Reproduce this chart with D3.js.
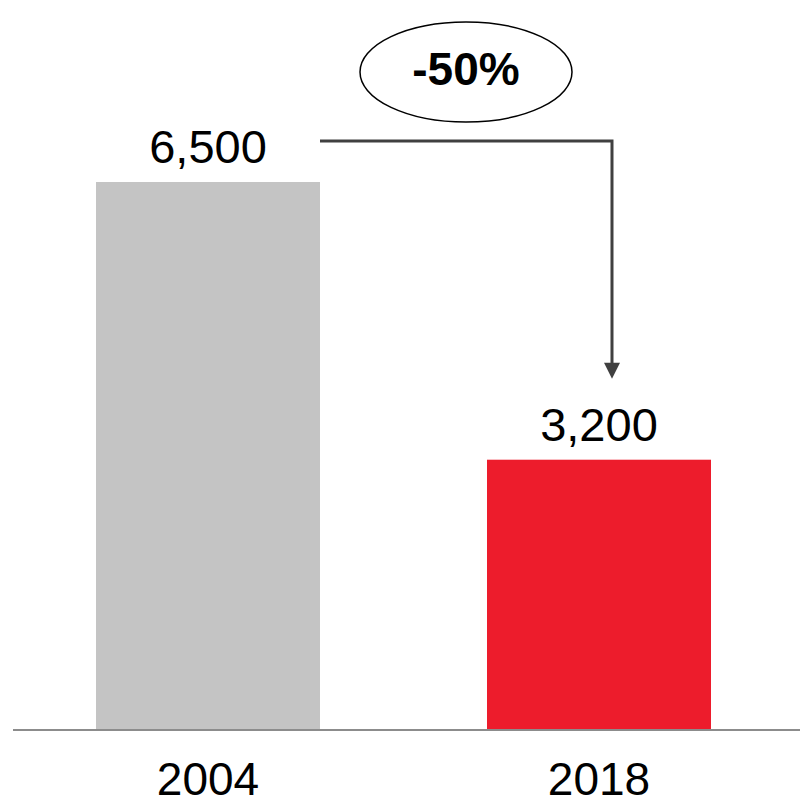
<!DOCTYPE html>
<html>
    <head>
        <meta charset="utf-8">
        <script src="https://d3js.org/d3.v7.min.js"></script>
        <style>
            body { margin: 0; background: #fff; }
            text { font-family: "Liberation Sans", Arial, sans-serif; }
        </style>
    </head>
    <body>
        <script>
            var years  = ['2004', '2018'];
            var values = [6500, 3200];
            var colors = ['#c4c4c4', '#ed1c2c'];
            var change = '-50%';

            var width = 800, height = 806;

            var svg = d3.select('body')
                        .append('svg')
                        .attr('width', width)
                        .attr('height', height);

            var x = d3.scaleBand()
                      .domain(years)
                      .range([96, 711])
                      .paddingInner(0.4271)
                      .paddingOuter(0);

            var y = d3.scaleLinear()
                      .domain([0, 6500])
                      .range([729, 182]);

            var data = years.map(function(d, i) {
                return { year: d, value: values[i], color: colors[i] };
            });

            // bars
            svg.selectAll('rect.bar')
               .data(data)
               .enter().append('rect')
                   .attr('class', 'bar')
                   .attr('x', function(d) { return x(d.year); })
                   .attr('y', function(d) { return y(d.value); })
                   .attr('width', x.bandwidth())
                   .attr('height', function(d) { return y(0) - y(d.value); })
                   .style('fill', function(d) { return d.color; });

            // baseline
            svg.append('line')
               .attr('x1', 13).attr('x2', width)
               .attr('y1', y(0) + 1).attr('y2', y(0) + 1)
               .style('stroke', '#8c8c8c')
               .style('stroke-width', 2);

            // value labels
            svg.selectAll('text.value')
               .data(data)
               .enter().append('text')
                   .attr('class', 'value')
                   .attr('x', function(d) { return x(d.year) + x.bandwidth() / 2; })
                   .attr('y', function(d) { return y(d.value) - 19; })
                   .attr('text-anchor', 'middle')
                   .style('font-size', '47px')
                   .style('fill', '#000')
                   .text(function(d) { return d3.format(',')(d.value); });

            // category labels (kept just inside the bottom edge)
            svg.selectAll('text.cat')
               .data(data)
               .enter().append('text')
                   .attr('class', 'cat')
                   .attr('x', function(d) { return x(d.year) + x.bandwidth() / 2; })
                   .attr('y', 795)
                   .attr('text-anchor', 'middle')
                   .style('font-size', '46px')
                   .style('fill', '#000')
                   .text(function(d) { return d.year; });

            // connector arrow: from top of first bar across, then down toward second bar
            var x0 = x(years[0]) + x.bandwidth(),
                x1 = x(years[1]) + x.bandwidth() / 2 + 13,
                yTop = 141,
                tip = y(values[1]) - 81;

            svg.append('path')
               .attr('d', 'M' + x0 + ',' + yTop + ' H' + x1 + ' V' + (tip - 14))
               .style('fill', 'none')
               .style('stroke', '#404040')
               .style('stroke-width', 3);

            svg.append('path')
               .attr('d', 'M' + (x1 - 8) + ',' + (tip - 16) + ' L' + (x1 + 8) + ',' + (tip - 16) + ' L' + x1 + ',' + tip + ' Z')
               .style('fill', '#404040');

            // change bubble
            svg.append('ellipse')
               .attr('cx', 466).attr('cy', 72)
               .attr('rx', 106).attr('ry', 50)
               .style('fill', '#fff')
               .style('stroke', '#000')
               .style('stroke-width', 1.5);

            svg.append('text')
               .attr('x', 466).attr('y', 85)
               .attr('text-anchor', 'middle')
               .style('font-size', '46px')
               .style('font-weight', 'bold')
               .style('fill', '#000')
               .text(change);
        </script>
    </body>
</html>
